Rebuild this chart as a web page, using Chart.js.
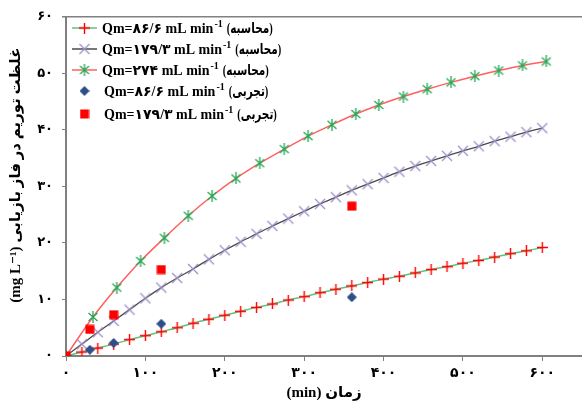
<!DOCTYPE html>
<html>
<head>
<meta charset="utf-8">
<script src="https://cdn.jsdelivr.net/npm/chart.js@4.4.1/dist/chart.umd.min.js"></script>
<style>
  html, body { margin: 0; padding: 0; background: #fff; }
</style>
</head>
<body>
<canvas id="chart" width="582" height="408"></canvas>
<script>
// time values (min) for the calculated curves
const calcTimes = [0, 20, 40, 60, 80, 100, 120, 140, 160, 180, 200, 220, 240, 260, 280, 300,
                   320, 340, 360, 380, 400, 420, 440, 460, 480, 500, 520, 540, 560, 580, 600];
const starTimes = [0, 34, 64, 94, 124, 154, 184, 214, 244, 275, 305, 335, 365, 394, 425, 455,
                   485, 515, 545, 575, 605];
const expTimes = [0, 30, 60, 120, 360];

// thorium concentration (mg/L)
const calc86 = [0, 0.7, 1.4, 2.1, 2.9, 3.6, 4.3, 5.0, 5.8, 6.5, 7.2, 7.9, 8.6, 9.2, 9.9, 10.5,
                11.2, 11.8, 12.4, 13.0, 13.6, 14.1, 14.7, 15.3, 15.8, 16.4, 16.9, 17.5, 18.1, 18.6, 19.2];
const calc179 = [0, 2.1, 4.2, 6.2, 8.2, 10.2, 12.1, 13.8, 15.4, 17.1, 18.7, 20.2, 21.6, 23.0, 24.3, 25.6,
                 26.9, 28.1, 29.3, 30.4, 31.5, 32.6, 33.6, 34.5, 35.4, 36.3, 37.1, 38.0, 38.8, 39.6, 40.3];
const calc274 = [0, 6.9, 12.1, 16.8, 20.9, 24.8, 28.3, 31.4, 34.1, 36.6, 38.9, 40.9, 42.8, 44.4, 45.9,
                 47.2, 48.4, 49.5, 50.5, 51.4, 52.1];
const exp86 = [0, 1.1, 2.3, 5.7, 10.4];
const exp179 = [0, 4.7, 7.3, 15.3, 26.5];

// tick labels (Persian digits)
const xTickLabels = ['۰', '۱۰۰', '۲۰۰', '۳۰۰', '۴۰۰', '۵۰۰', '۶۰۰'];
const yTickLabels = ['۰', '۱۰', '۲۰', '۳۰', '۴۰', '۵۰', '۶۰'];

// legend text: [main, superscript, suffix]
const legendLabels = [
    ['Qm=۸۶/۶ mL min', '-1', '(محاسبه)'],
    ['Qm=۱۷۹/۳ mL min', '-1', '(محاسبه)'],
    ['Qm=۲۷۴ mL min', '-1', '(محاسبه)'],
    ['Qm=۸۶/۶ mL min', '-1', '(تجربی)'],
    ['Qm=۱۷۹/۳ mL min', '-1', '(تجربی)']
];

// pair x and y lists into point objects
function toPoints(xs, ys) {
    return xs.map(function (x, i) { return { x: x, y: ys[i] }; });
}

// small canvases used as marker images
function makeMarker(size, draw) {
    var c = document.createElement('canvas');
    c.width = size;
    c.height = size;
    draw(c.getContext('2d'), size);
    return c;
}

var plusMarker = makeMarker(11, function (g, s) {
    g.strokeStyle = '#ff0000';
    g.lineWidth = 1.4;
    g.beginPath();
    g.moveTo(s / 2, 0); g.lineTo(s / 2, s);
    g.moveTo(0, s / 2); g.lineTo(s, s / 2);
    g.stroke();
});
var crossMarker = makeMarker(12, function (g, s) {
    g.strokeStyle = '#9d8cc7';
    g.lineWidth = 1.2;
    g.beginPath();
    g.moveTo(1, 1); g.lineTo(s - 1, s - 1);
    g.moveTo(s - 1, 1); g.lineTo(1, s - 1);
    g.stroke();
});
var starMarker = makeMarker(12, function (g, s) {
    g.strokeStyle = '#22a955';
    g.lineWidth = 1.3;
    g.beginPath();
    g.moveTo(s / 2, 0); g.lineTo(s / 2, s);
    g.moveTo(1.5, 2); g.lineTo(s - 1.5, s - 2);
    g.moveTo(s - 1.5, 2); g.lineTo(1.5, s - 2);
    g.stroke();
});
var diamondMarker = makeMarker(10, function (g, s) {
    g.fillStyle = '#2c4f88';
    g.beginPath();
    g.moveTo(s / 2, 0); g.lineTo(s, s / 2); g.lineTo(s / 2, s); g.lineTo(0, s / 2);
    g.closePath();
    g.fill();
});
var squareMarker = makeMarker(10, function (g, s) {
    g.fillStyle = '#ff0000';
    g.fillRect(0.5, 0.5, s - 1, s - 1);
});

var lineColors = ['#5cc47e', '#4a4a4a', '#ff6060'];
var markers = [plusMarker, crossMarker, starMarker, diamondMarker, squareMarker];
var serif = '"Liberation Serif", "DejaVu Sans"';

// draws the legend box and the top frame line
const legendPlugin = {
    id: 'boxLegend',
    afterDraw: function (chart) {
        var ctx = chart.ctx;
        var area = chart.chartArea;
        ctx.save();

        // top border of the plot frame
        ctx.strokeStyle = '#808080';
        ctx.lineWidth = 1.5;
        ctx.beginPath();
        ctx.moveTo(area.left - 4, area.top);
        ctx.lineTo(582, area.top);
        ctx.stroke();

        var rowY = [28, 49, 70, 91, 114];
        ctx.fillStyle = '#000';
        ctx.textBaseline = 'middle';
        legendLabels.forEach(function (parts, i) {
            var y = rowY[i];
            if (i < 3) {
                ctx.strokeStyle = lineColors[i];
                ctx.lineWidth = 1.5;
                ctx.beginPath();
                ctx.moveTo(72, y);
                ctx.lineTo(97, y);
                ctx.stroke();
            }
            var m = markers[i];
            ctx.drawImage(m, 84.5 - m.width / 2, y - m.height / 2);

            var x = i < 3 ? 102 : 104;
            ctx.font = 'bold 14px ' + serif;
            ctx.fillText(parts[0], x, y + 1);
            x += ctx.measureText(parts[0]).width + 1;
            ctx.font = 'bold 10px ' + serif;
            ctx.fillText(parts[1], x, y - 4);
            x += ctx.measureText(parts[1]).width + 4;
            // the Persian word is drawn a little narrower, as in the source figure
            ctx.font = 'bold 15px ' + serif;
            ctx.save();
            ctx.translate(x, y + 1);
            ctx.scale(0.7, 1);
            ctx.fillText(parts[2], 0, 0);
            ctx.restore();
        });
        ctx.restore();
    }
};

var ctx = document.getElementById('chart').getContext('2d');
new Chart(ctx, {
    type: 'scatter',
    data: {
        datasets: [{
            label: legendLabels[0].join(''),
            data: toPoints(calcTimes, calc86),
            showLine: true,
            borderColor: lineColors[0],
            borderWidth: 1.5,
            cubicInterpolationMode: 'monotone',
            pointStyle: plusMarker,
            order: 2
        }, {
            label: legendLabels[1].join(''),
            data: toPoints(calcTimes, calc179),
            showLine: true,
            borderColor: lineColors[1],
            borderWidth: 1.3,
            cubicInterpolationMode: 'monotone',
            pointStyle: crossMarker,
            order: 2
        }, {
            label: legendLabels[2].join(''),
            data: toPoints(starTimes, calc274),
            showLine: true,
            borderColor: lineColors[2],
            borderWidth: 1.5,
            cubicInterpolationMode: 'monotone',
            pointStyle: starMarker,
            order: 2
        }, {
            label: legendLabels[3].join(''),
            data: toPoints(expTimes, exp86),
            showLine: false,
            pointStyle: diamondMarker,
            order: 1
        }, {
            label: legendLabels[4].join(''),
            data: toPoints(expTimes, exp179),
            showLine: false,
            pointStyle: squareMarker,
            order: 0
        }]
    },
    options: {
        responsive: false,
        animation: false,
        devicePixelRatio: 1,
        layout: { autoPadding: false, padding: { top: 16, right: 0, left: 0, bottom: 0 } },
        plugins: {
            legend: { display: false },
            tooltip: { enabled: false }
        },
        scales: {
            x: {
                type: 'linear',
                min: 0,
                max: 650,
                afterFit: function (scale) {
                    scale.height = 52;
                    scale.paddingRight = 0;
                    scale.paddingLeft = 0;
                },
                afterBuildTicks: function (scale) {
                    scale.ticks = scale.ticks.filter(function (t) { return t.value % 100 === 0; });
                },
                ticks: {
                    stepSize: 100,
                    padding: 4,
                    color: '#000',
                    font: { family: serif, size: 14, weight: 'bold' },
                    callback: function (value) { return xTickLabels[value / 100]; }
                },
                grid: { drawOnChartArea: false, tickLength: 5, color: '#808080' },
                border: { display: true, color: '#808080', width: 2 },
                title: {
                    display: true,
                    text: '(min) زمان',
                    color: '#000',
                    padding: { top: 0, bottom: 6 },
                    font: { family: serif, size: 15, weight: 'bold' }
                }
            },
            y: {
                min: 0,
                max: 60,
                afterFit: function (scale) { scale.width = 66; },
                ticks: {
                    stepSize: 10,
                    padding: 9,
                    color: '#000',
                    font: { family: serif, size: 13, weight: 'bold' },
                    callback: function (value) { return yTickLabels[value / 10]; }
                },
                grid: { drawOnChartArea: false, tickLength: 4, color: '#808080' },
                border: { display: true, color: '#808080', width: 2 },
                title: {
                    display: true,
                    text: '\u2002\u2002\u2002(mg L⁻¹) غلظت توریم در فاز بازیابی',
                    color: '#000',
                    padding: { top: 7, bottom: 0 },
                    font: { family: serif, size: 15, weight: 'bold' }
                }
            }
        }
    },
    plugins: [legendPlugin]
});
</script>
</body>
</html>
